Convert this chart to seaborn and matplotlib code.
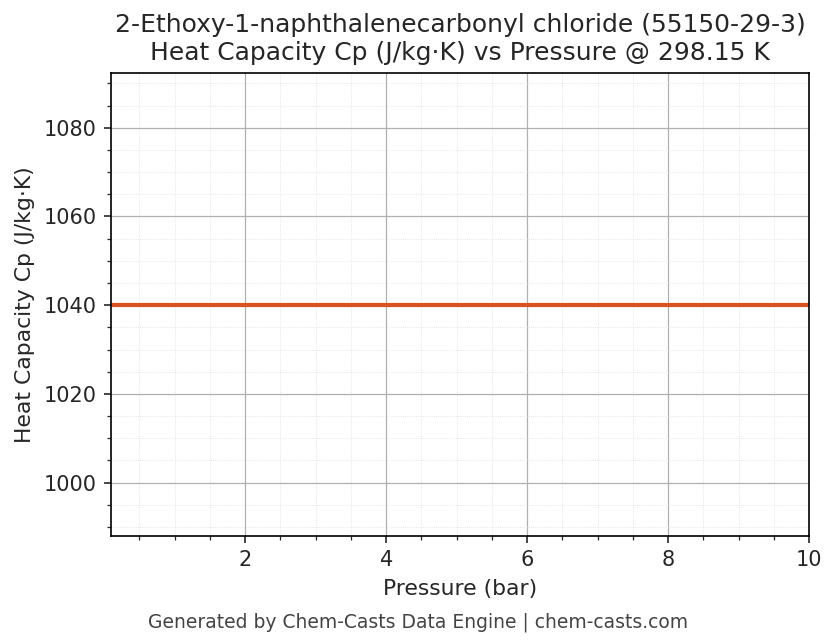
import numpy as np
import matplotlib
matplotlib.use("Agg")
import matplotlib.pyplot as plt
import seaborn as sns
import pandas as pd

pressure = [0.1, 1, 2, 3, 4, 5, 6, 7, 8, 9, 10]
cp = [1040]*len(pressure)

sns.set_style("white")
plt.rcParams['font.family'] = ['DejaVu Sans']
fig = plt.figure(figsize=(836/150, 644/150), dpi=150)
ax = fig.add_axes([0.133, 0.168, 0.835, 0.719])
df = pd.DataFrame({"p": pressure, "cp": cp})
sns.lineplot(data=df, x="p", y="cp", ax=ax, color="#d9531e", linewidth=2)
ax.set_xlim(0.1, 10)
ax.set_ylim(988, 1092.4)
ax.set_xticks([2, 4, 6, 8, 10])
ax.minorticks_on()
ax.grid(True, which="major", color="#b0b0b0", linewidth=0.6)
ax.grid(True, which="minor", color="#dddddd", linewidth=0.4, linestyle=":")
ax.tick_params(which="both", direction="out", left=True, bottom=True, labelsize=10)
ax.tick_params(which="minor", length=2)
for s in ax.spines.values():
    s.set_color("black"); s.set_linewidth(0.8)
ax.set_xlabel("Pressure (bar)", fontsize=10.5)
ax.set_ylabel("Heat Capacity Cp (J/kg·K)", fontsize=10.5)
ax.set_title("2-Ethoxy-1-naphthalenecarbonyl chloride (55150-29-3)\nHeat Capacity Cp (J/kg·K) vs Pressure @ 298.15 K", fontsize=12)
fig.text(0.5, 0.025, "Generated by Chem-Casts Data Engine | chem-casts.com", ha="center", fontsize=9, color="#444444")
fig.savefig("out.png", dpi=150)
